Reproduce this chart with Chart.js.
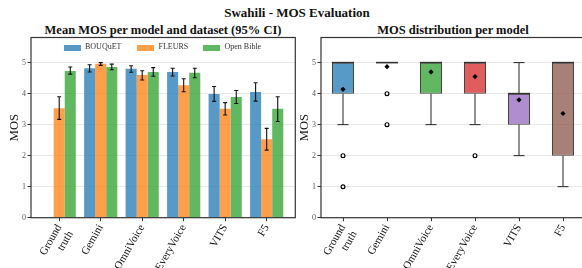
<!DOCTYPE html>
<html>
<head>
<meta charset="utf-8">
<script src="https://cdn.jsdelivr.net/npm/chart.js@4/dist/chart.umd.min.js"></script>
<style>
  html, body { margin: 0; padding: 0; background: #fff; }
  body { width: 582px; height: 268px; overflow: hidden; position: relative; font-family: 'Liberation Serif', serif; }
  .t { position: absolute; white-space: nowrap; font-weight: bold; color: #111; transform: translateX(-50%); }
  #wrapL { position: absolute; left: 0; top: 0; width: 300px; height: 268px; }
  #wrapR { position: absolute; left: 290px; top: 0; width: 310px; height: 268px; }
  .leg { position: absolute; top: 40px; font-size: 8px; color: #333; line-height: 14px; }
  .sw { position: absolute; width: 17px; height: 6px; }
</style>
</head>
<body>
<div class="t" style="left:297px; top:5px; font-size:13px;">Swahili - MOS Evaluation</div>
<div class="t" style="left:163px; top:23px; font-size:12.5px;">Mean MOS per model and dataset (95% CI)</div>
<div class="t" style="left:453px; top:23px; font-size:12.5px;">MOS distribution per model</div>
<div id="wrapL"><canvas id="cL" width="300" height="268"></canvas></div>
<div id="wrapR"><canvas id="cR" width="310" height="268"></canvas></div>
<div id="legend"></div>
<script>
// ---------- data ----------
const models = [['Ground', 'truth'], 'Gemini', 'OmniVoice', 'EveryVoice', 'VITS', 'F5'];
const datasetNames = ['BOUQuET', 'FLEURS', 'Open Bible'];
const bouquetMean = [null, 4.82, 4.80, 4.70, 3.99, 4.05];
const bouquetLo   = [null, 4.70, 4.69, 4.57, 3.75, 3.76];
const bouquetHi   = [null, 4.93, 4.90, 4.82, 4.23, 4.35];
const fleursMean  = [3.53, 4.96, 4.60, 4.27, 3.51, 2.53];
const fleursLo    = [3.17, 4.91, 4.44, 4.06, 3.31, 2.18];
const fleursHi    = [3.90, 5.00, 4.74, 4.48, 3.71, 2.88];
const bibleMean   = [4.73, 4.86, 4.70, 4.67, 3.89, 3.51];
const bibleLo     = [4.63, 4.77, 4.56, 4.51, 3.68, 3.10];
const bibleHi     = [4.86, 4.95, 4.84, 4.82, 4.10, 3.90];

const whiskLo = [3, 5, 3, 3, 2, 1];
const q1      = [4, 5, 4, 4, 3, 2];
const median  = [5, 5, 5, 5, 4, 5];
const q3      = [5, 5, 5, 5, 4, 5];
const whiskHi = [5, 5, 5, 5, 5, 5];
const meanMOS = [4.14, 4.87, 4.70, 4.55, 3.80, 3.36];
const outlierModel = [0, 0, 1, 1, 3];
const outlierValue = [2, 1, 4, 3, 2];

const yTicks = [0, 1, 2, 3, 4, 5];

// ---------- styles ----------
const barColors = ['rgba(31,119,180,0.75)', 'rgba(255,127,14,0.75)', 'rgba(44,160,44,0.75)'];
const boxColors = ['rgba(31,119,180,0.75)', 'rgba(255,127,14,0.75)', 'rgba(44,160,44,0.75)',
                   'rgba(214,39,40,0.75)', 'rgba(148,103,189,0.75)', 'rgba(140,86,75,0.75)'];
const SERIF = "'Liberation Serif', serif";

// legend (HTML, inside left plot)
const legPos = [[64, 85], [137, 158.5], [203, 224.5]];
const legEl = document.getElementById('legend');
datasetNames.forEach((n, i) => {
  const s = document.createElement('div');
  s.className = 'sw'; s.style.left = legPos[i][0] + 'px'; s.style.top = '44.7px'; s.style.background = barColors[i];
  legEl.appendChild(s);
  const t = document.createElement('div');
  t.className = 'leg'; t.style.left = legPos[i][1] + 'px'; t.textContent = n;
  legEl.appendChild(t);
});

const framePlugin = {
  id: 'frame',
  afterDatasetsDraw(chart) {
    const a = chart.chartArea, ctx = chart.ctx;
    ctx.save();
    ctx.strokeStyle = '#333';
    ctx.lineWidth = 1.2;
    ctx.strokeRect(a.left, a.top, a.right - a.left, a.bottom - a.top);
    ctx.restore();
  }
};

function xScale(min, max) {
  return {
    type: 'linear', min: min, max: max, offset: false,
    afterBuildTicks: s => { s.ticks = models.map((_, i) => ({ value: i })); },
    afterFit: s => { s.height = 50.3; },
    border: { display: false },
    grid: { offset: false, drawOnChartArea: false, drawTicks: true, tickLength: 3.5, tickColor: '#333', lineWidth: 1 },
    ticks: {
      autoSkip: false, minRotation: 60, maxRotation: 60, padding: 1,
      color: '#111', font: { family: SERIF, size: 11 },
      callback: v => models[v]
    }
  };
}
function yScale() {
  return {
    min: 0, max: 5.81,
    afterBuildTicks: s => { s.ticks = yTicks.map(v => ({ value: v })); },
    afterFit: s => { s.width = 31; },
    border: { display: false },
    grid: { color: '#e8e8e8', lineWidth: 1, tickLength: 3.5, tickColor: '#333' },
    ticks: { color: '#555', padding: 1.5, font: { family: SERIF, size: 8 } },
    title: { display: true, text: 'MOS', color: '#111', padding: { top: 7.5, bottom: 0 }, font: { family: SERIF, size: 12.5 } }
  };
}

// ---------- left chart ----------
const errLo = [bouquetLo, fleursLo, bibleLo];
const errHi = [bouquetHi, fleursHi, bibleHi];
const errPlugin = {
  id: 'err',
  afterDatasetsDraw(chart) {
    const ctx = chart.ctx, ys = chart.scales.y;
    ctx.save();
    ctx.strokeStyle = '#111'; ctx.lineWidth = 1.1;
    chart.data.datasets.forEach((ds, di) => {
      const meta = chart.getDatasetMeta(di);
      meta.data.forEach((el, i) => {
        if (errLo[di][i] == null) return;
        const x = el.x, y1 = ys.getPixelForValue(errLo[di][i]), y2 = ys.getPixelForValue(errHi[di][i]);
        ctx.beginPath();
        ctx.moveTo(x, y1); ctx.lineTo(x, y2);
        ctx.moveTo(x - 2, y1); ctx.lineTo(x + 2, y1);
        ctx.moveTo(x - 2, y2); ctx.lineTo(x + 2, y2);
        ctx.stroke();
      });
    });
    ctx.restore();
  }
};
const barSeries = [bouquetMean, fleursMean, bibleMean];
new Chart(document.getElementById('cL'), {
  type: 'bar',
  data: {
    datasets: barSeries.map((vals, di) => ({
      label: datasetNames[di],
      data: vals.map((v, i) => ({ x: i, y: v })),
      backgroundColor: barColors[di],
      borderWidth: 0
    }))
  },
  options: {
    responsive: false, animation: false, devicePixelRatio: 1,
    categoryPercentage: 0.8, barPercentage: 1.0,
    layout: { padding: { left: 0, top: 37.5, right: 4.7, bottom: 0 } },
    plugins: { legend: { display: false }, tooltip: { enabled: false } },
    scales: { x: xScale(-0.68, 5.69), y: yScale() }
  },
  plugins: [errPlugin, framePlugin]
});

// ---------- right chart ----------
const boxPlugin = {
  id: 'box',
  afterDatasetsDraw(chart) {
    const ctx = chart.ctx, ys = chart.scales.y;
    const meta = chart.getDatasetMeta(0);
    ctx.save();
    meta.data.forEach((el, i) => {
      const x = el.x, w = el.width;
      ctx.strokeStyle = '#222'; ctx.lineWidth = 1;
      ctx.beginPath();
      if (whiskHi[i] > q3[i]) {
        ctx.moveTo(x, ys.getPixelForValue(q3[i])); ctx.lineTo(x, ys.getPixelForValue(whiskHi[i]));
      }
      if (whiskLo[i] < q1[i]) {
        ctx.moveTo(x, ys.getPixelForValue(q1[i])); ctx.lineTo(x, ys.getPixelForValue(whiskLo[i]));
      }
      if (whiskHi[i] !== q1[i] || whiskLo[i] !== q3[i]) {
        const yh = ys.getPixelForValue(whiskHi[i]), yl = ys.getPixelForValue(whiskLo[i]);
        ctx.moveTo(x - w / 4, yh); ctx.lineTo(x + w / 4, yh);
        ctx.moveTo(x - w / 4, yl); ctx.lineTo(x + w / 4, yl);
      }
      ctx.stroke();
      ctx.strokeStyle = '#333'; ctx.lineWidth = 1.6;
      const ym = ys.getPixelForValue(median[i]);
      ctx.beginPath(); ctx.moveTo(x - w / 2, ym); ctx.lineTo(x + w / 2, ym); ctx.stroke();
    });
    ctx.restore();
  }
};
new Chart(document.getElementById('cR'), {
  type: 'bar',
  data: {
    datasets: [
      {
        type: 'bar', label: 'box',
        data: models.map((_, i) => ({ x: i, y: [q1[i], q3[i]] })),
        backgroundColor: boxColors, borderColor: '#444', borderWidth: 1, borderSkipped: false,
        categoryPercentage: 0.5, barPercentage: 1.0, order: 3
      },
      {
        type: 'scatter', label: 'mean',
        data: meanMOS.map((v, i) => ({ x: i, y: v })),
        pointStyle: 'rectRot', radius: 2.6, backgroundColor: '#000', borderColor: '#000', borderWidth: 0, order: 1
      },
      {
        type: 'scatter', label: 'outliers',
        data: outlierValue.map((v, k) => ({ x: outlierModel[k], y: v })),
        pointStyle: 'circle', radius: 1.9, backgroundColor: '#fff', borderColor: '#000', borderWidth: 1.2, order: 2
      }
    ]
  },
  options: {
    responsive: false, animation: false, devicePixelRatio: 1,
    layout: { padding: { left: 0, top: 37.5, right: 15, bottom: 0 } },
    plugins: { legend: { display: false }, tooltip: { enabled: false } },
    scales: { x: xScale(-0.5, 5.5), y: yScale() }
  },
  plugins: [boxPlugin, framePlugin]
});
</script>
</body>
</html>
